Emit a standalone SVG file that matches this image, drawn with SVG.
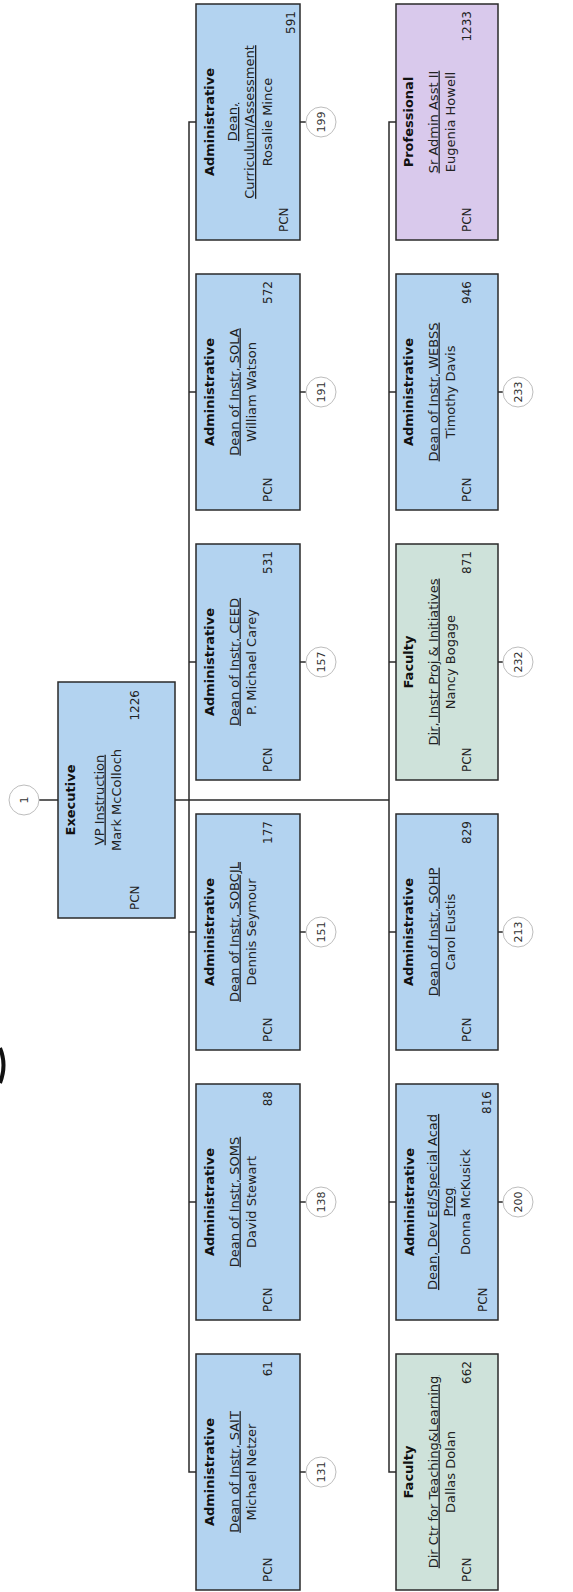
<svg xmlns="http://www.w3.org/2000/svg" width="573" height="1592" viewBox="0 0 573 1592">
<style>
.box{stroke:#2a2a2a;stroke-width:1.5}
.blue{fill:#b3d3f0}
.green{fill:#cee2da}
.purple{fill:#d9c9ec}
text{font-family:"DejaVu Sans",Verdana,sans-serif;fill:#222}
.b{font-weight:bold;font-size:13px;text-anchor:middle;fill:#111}
.t{font-size:13px;text-anchor:middle;text-decoration:underline}
.n{font-size:13px;text-anchor:middle}
.p{font-size:12px}
.num{font-size:12px;text-anchor:end}
.c{fill:#fff;stroke:#bdbdbd;stroke-width:1}
.ct{font-size:11px;text-anchor:middle;fill:#333}
.conn{fill:none;stroke:#2a2a2a;stroke-width:1.5}
</style>
<path d="M0,1048 Q7,1065 0,1083" fill="none" stroke="#111" stroke-width="4"/>
<g id="connectors" class="conn">
<path d="M39,800 H58"/>
<path d="M175,800 H389"/>
<path d="M196,122 H189 V1472 H196"/>
<path d="M189,392 H196 M189,662 H196 M189,932 H196 M189,1202 H196"/>
<path d="M396,122 H389 V1472 H396"/>
<path d="M389,392 H396 M389,662 H396 M389,932 H396 M389,1202 H396"/>
<path d="M300,122 H306 M300,392 H306 M300,662 H306 M300,932 H306 M300,1202 H306 M300,1472 H306"/>
<path d="M498,392 H503 M498,662 H503 M498,932 H503 M498,1202 H503"/>
</g>
<g id="c1" transform="translate(24,800) rotate(-90)"><circle class="c" r="15"/><text class="ct" y="4">1</text></g>
<g id="exec" transform="translate(116.5,800) rotate(-90)">
<rect class="box blue" x="-118" y="-58.5" width="236" height="117"/>
<text class="b" y="-42">Executive</text>
<text class="t" y="-13">VP Instruction</text>
<text class="n" y="4">Mark McColloch</text>
<text class="p" x="-110" y="22">PCN</text>
<text class="num" x="110" y="22">1226</text>
</g>
<g id="rosalie" transform="translate(248,122) rotate(-90)">
<rect class="box blue" x="-118" y="-52" width="236" height="104"/>
<text class="b" y="-34">Administrative</text>
<text class="t" y="-11">Dean,</text>
<text class="t" y="6">Curriculum/Assessment</text>
<text class="n" y="24">Rosalie Mince</text>
<text class="p" x="-110" y="40">PCN</text>
<text class="num" x="111" y="47">591</text>
</g>
<g id="c199" transform="translate(321,122) rotate(-90)"><circle class="c" r="15"/><text class="ct" y="4">199</text></g>
<g id="sola" transform="translate(248,392) rotate(-90)">
<rect class="box blue" x="-118" y="-52" width="236" height="104"/>
<text class="b" y="-34">Administrative</text>
<text class="t" y="-9.5">Dean of Instr, SOLA</text>
<text class="n" y="7.5">William Watson</text>
<text class="p" x="-110" y="24">PCN</text>
<text class="num" x="111" y="24">572</text>
</g>
<g id="c191" transform="translate(321,392) rotate(-90)"><circle class="c" r="15"/><text class="ct" y="4">191</text></g>
<g id="ceed" transform="translate(248,662) rotate(-90)">
<rect class="box blue" x="-118" y="-52" width="236" height="104"/>
<text class="b" y="-34">Administrative</text>
<text class="t" y="-9.5">Dean of Instr, CEED</text>
<text class="n" y="7.5">P. Michael Carey</text>
<text class="p" x="-110" y="24">PCN</text>
<text class="num" x="111" y="24">531</text>
</g>
<g id="c157" transform="translate(321,662) rotate(-90)"><circle class="c" r="15"/><text class="ct" y="4">157</text></g>
<g id="sobcjl" transform="translate(248,932) rotate(-90)">
<rect class="box blue" x="-118" y="-52" width="236" height="104"/>
<text class="b" y="-34">Administrative</text>
<text class="t" y="-9.5">Dean of Instr, SOBCJL</text>
<text class="n" y="7.5">Dennis Seymour</text>
<text class="p" x="-110" y="24">PCN</text>
<text class="num" x="111" y="24">177</text>
</g>
<g id="c151" transform="translate(321,932) rotate(-90)"><circle class="c" r="15"/><text class="ct" y="4">151</text></g>
<g id="soms" transform="translate(248,1202) rotate(-90)">
<rect class="box blue" x="-118" y="-52" width="236" height="104"/>
<text class="b" y="-34">Administrative</text>
<text class="t" y="-9.5">Dean of Instr, SOMS</text>
<text class="n" y="7.5">David Stewart</text>
<text class="p" x="-110" y="24">PCN</text>
<text class="num" x="111" y="24">88</text>
</g>
<g id="c138" transform="translate(321,1202) rotate(-90)"><circle class="c" r="15"/><text class="ct" y="4">138</text></g>
<g id="sait" transform="translate(248,1472) rotate(-90)">
<rect class="box blue" x="-118" y="-52" width="236" height="104"/>
<text class="b" y="-34">Administrative</text>
<text class="t" y="-9.5">Dean of Instr, SAIT</text>
<text class="n" y="7.5">Michael Netzer</text>
<text class="p" x="-110" y="24">PCN</text>
<text class="num" x="111" y="24">61</text>
</g>
<g id="c131" transform="translate(321,1472) rotate(-90)"><circle class="c" r="15"/><text class="ct" y="4">131</text></g>
<g id="howell" transform="translate(447,122) rotate(-90)">
<rect class="box purple" x="-118" y="-51" width="236" height="102"/>
<text class="b" y="-34">Professional</text>
<text class="t" y="-9.5">Sr Admin Asst II</text>
<text class="n" y="7.5">Eugenia Howell</text>
<text class="p" x="-110" y="24">PCN</text>
<text class="num" x="111" y="24">1233</text>
</g>
<g id="webss" transform="translate(447,392) rotate(-90)">
<rect class="box blue" x="-118" y="-51" width="236" height="102"/>
<text class="b" y="-34">Administrative</text>
<text class="t" y="-9.5">Dean of Instr, WEBSS</text>
<text class="n" y="7.5">Timothy Davis</text>
<text class="p" x="-110" y="24">PCN</text>
<text class="num" x="111" y="24">946</text>
</g>
<g id="c233" transform="translate(518,392) rotate(-90)"><circle class="c" r="15"/><text class="ct" y="4">233</text></g>
<g id="bogage" transform="translate(447,662) rotate(-90)">
<rect class="box green" x="-118" y="-51" width="236" height="102"/>
<text class="b" y="-34">Faculty</text>
<text class="t" y="-9.5">Dir, Instr Proj &amp; Initiatives</text>
<text class="n" y="7.5">Nancy Bogage</text>
<text class="p" x="-110" y="24">PCN</text>
<text class="num" x="111" y="24">871</text>
</g>
<g id="c232" transform="translate(518,662) rotate(-90)"><circle class="c" r="15"/><text class="ct" y="4">232</text></g>
<g id="sohp" transform="translate(447,932) rotate(-90)">
<rect class="box blue" x="-118" y="-51" width="236" height="102"/>
<text class="b" y="-34">Administrative</text>
<text class="t" y="-9.5">Dean of Instr, SOHP</text>
<text class="n" y="7.5">Carol Eustis</text>
<text class="p" x="-110" y="24">PCN</text>
<text class="num" x="111" y="24">829</text>
</g>
<g id="c213" transform="translate(518,932) rotate(-90)"><circle class="c" r="15"/><text class="ct" y="4">213</text></g>
<g id="deved" transform="translate(447,1202) rotate(-90)">
<rect class="box blue" x="-118" y="-51" width="236" height="102"/>
<text class="b" y="-33">Administrative</text>
<text class="t" y="-10">Dean, Dev Ed/Special Acad</text>
<text class="t" y="6">Prog</text>
<text class="n" y="23">Donna McKusick</text>
<text class="p" x="-110" y="40">PCN</text>
<text class="num" x="111" y="44">816</text>
</g>
<g id="c200" transform="translate(518,1202) rotate(-90)"><circle class="c" r="15"/><text class="ct" y="4">200</text></g>
<g id="dolan" transform="translate(447,1472) rotate(-90)">
<rect class="box green" x="-118" y="-51" width="236" height="102"/>
<text class="b" y="-34">Faculty</text>
<text class="t" y="-9.5">Dir Ctr for Teaching&amp;Learning</text>
<text class="n" y="7.5">Dallas Dolan</text>
<text class="p" x="-110" y="24">PCN</text>
<text class="num" x="111" y="24">662</text>
</g>
</svg>
